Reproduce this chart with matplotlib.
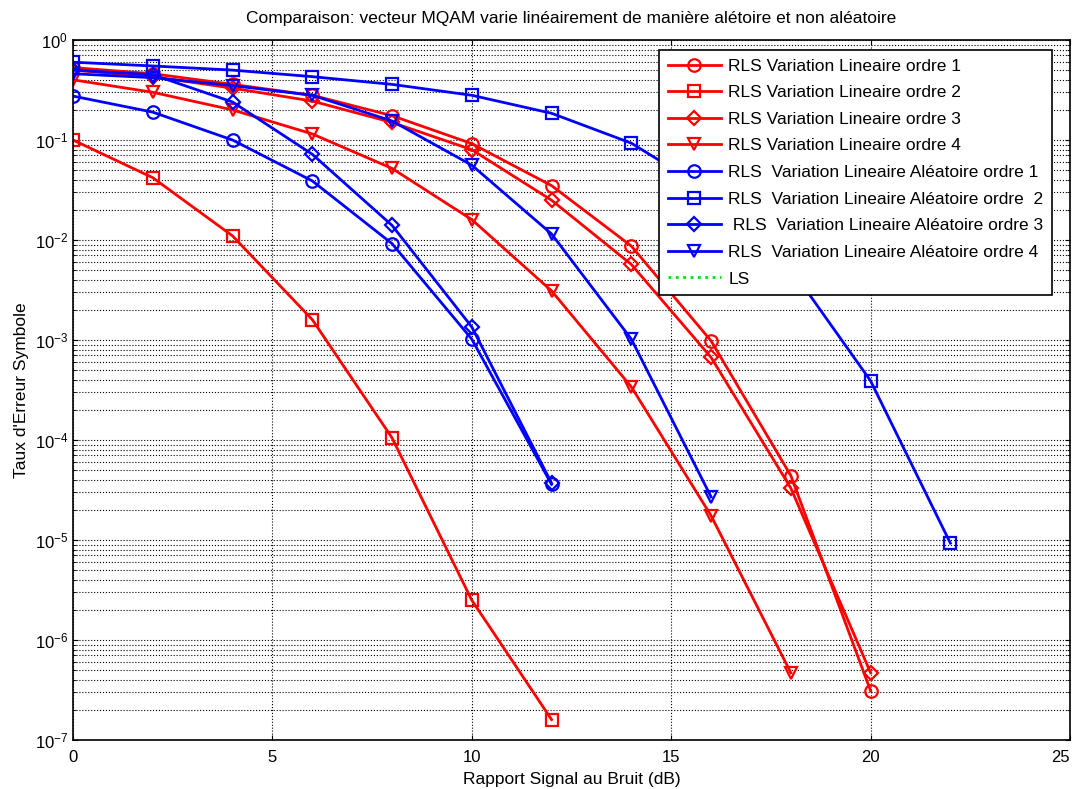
import numpy as np
import matplotlib
matplotlib.use('Agg')
import matplotlib.pyplot as plt
from matplotlib.ticker import LogLocator, NullFormatter, FixedLocator

plt.rcParams['font.family'] = ['Liberation Sans', 'DejaVu Sans']

# SNR values (dB)
snr_lin = [0, 2, 4, 6, 8, 10, 12, 14, 16, 18, 20]
snr_lin2 = [0, 2, 4, 6, 8, 10, 12]
snr_lin4 = [0, 2, 4, 6, 8, 10, 12, 14, 16, 18]
snr_ale1 = [0, 2, 4, 6, 8, 10, 12]
snr_ale2 = [0, 2, 4, 6, 8, 10, 12, 14, 16, 18, 20, 22]
snr_ale3 = [0, 2, 4, 6, 8, 10, 12]
snr_ale4 = [0, 2, 4, 6, 8, 10, 12, 14, 16]

# symbol error rates
ser_lin1 = [0.53, 0.46, 0.36, 0.28, 0.175, 0.092, 0.035, 0.0087, 0.00098, 4.4e-5, 3.1e-7]
ser_lin2 = [0.1, 0.042, 0.011, 0.0016, 1.05e-4, 2.5e-6, 1.6e-7]
ser_lin3 = [0.5, 0.43, 0.33, 0.245, 0.15, 0.08, 0.025, 0.0057, 6.7e-4, 3.3e-5, 4.7e-7]
ser_lin4 = [0.4, 0.3, 0.2, 0.115, 0.052, 0.016, 0.0031, 3.4e-4, 1.75e-5, 4.7e-7]
ser_ale1 = [0.275, 0.19, 0.1, 0.039, 0.0092, 0.00102, 3.6e-5]
ser_ale2 = [0.6, 0.55, 0.5, 0.43, 0.36, 0.28, 0.185, 0.093, 0.03, 0.0052, 3.9e-4, 9.3e-6]
ser_ale3 = [0.5, 0.45, 0.24, 0.072, 0.014, 0.00135, 3.7e-5]
ser_ale4 = [0.46, 0.42, 0.35, 0.28, 0.155, 0.056, 0.0115, 0.00102, 2.7e-5]

fig = plt.figure(figsize=(10.78, 7.89), dpi=100)
ax = fig.add_axes([0.0677, 0.0621, 0.9249, 0.8872])

kw = dict(linewidth=2, markersize=9, markerfacecolor='none', markeredgewidth=1.6)
kwd = dict(kw, markersize=7.5)
ax.semilogy(snr_lin, ser_lin1, 'o-', color='r', label='RLS Variation Lineaire ordre 1', **kw)
ax.semilogy(snr_lin2, ser_lin2, 's-', color='r', label='RLS Variation Lineaire ordre 2', **kw)
ax.semilogy(snr_lin, ser_lin3, 'D-', color='r', label='RLS Variation Lineaire ordre 3', **kwd)
ax.semilogy(snr_lin4, ser_lin4, 'v-', color='r', label='RLS Variation Lineaire ordre 4', **kw)
ax.semilogy(snr_ale1, ser_ale1, 'o-', color='b', label='RLS  Variation Lineaire Aléatoire ordre 1', **kw)
ax.semilogy(snr_ale2, ser_ale2, 's-', color='b', label='RLS  Variation Lineaire Aléatoire ordre  2', **kw)
ax.semilogy(snr_ale3, ser_ale3, 'D-', color='b', label=' RLS  Variation Lineaire Aléatoire ordre 3', **kwd)
ax.semilogy(snr_ale4, ser_ale4, 'v-', color='b', label='RLS  Variation Lineaire Aléatoire ordre 4', **kw)
ax.semilogy([], [], ':', color='#00e000', linewidth=2, label='LS')

ax.set_xlim(0, 25)
ax.set_ylim(1e-7, 1)
ax.xaxis.set_major_locator(FixedLocator([0, 5, 10, 15, 20, 25]))
ax.yaxis.set_major_locator(LogLocator(base=10, numticks=20))
ax.yaxis.set_minor_locator(LogLocator(base=10, subs=np.arange(2, 10), numticks=100))
ax.yaxis.set_minor_formatter(NullFormatter())
ax.grid(True, which='major', color='k', linestyle=':', linewidth=0.8)
ax.grid(True, which='minor', axis='y', color='k', linestyle=':', linewidth=0.8)
ax.tick_params(which='both', direction='in', top=True, right=True, labelsize=12)
ax.tick_params(axis='x', pad=7)
for s in ax.spines.values():
    s.set_linewidth(1.2)
# keep the last x tick label inside the picture
xt = ax.get_xticklabels()
xt[-1].set_horizontalalignment('right')
xt[-1].set_x(25)

ax.set_title('Comparaison: vecteur MQAM varie linéairement de manière alétoire et non aléatoire',
             fontsize=12.5, pad=12)
ax.set_xlabel('Rapport Signal au Bruit (dB)', fontsize=12.5, labelpad=5)
ax.set_ylabel("Taux d'Erreur Symbole", fontsize=12.5)

leg = ax.legend(loc='upper right', bbox_to_anchor=(0.982, 0.986), fontsize=12.5, fancybox=False,
                framealpha=1, edgecolor='k', handlelength=3.1, handletextpad=0.4,
                borderpad=0.5, labelspacing=0.66, borderaxespad=0)
leg.get_frame().set_linewidth(1.2)

fig.savefig('out.png', dpi=100)
